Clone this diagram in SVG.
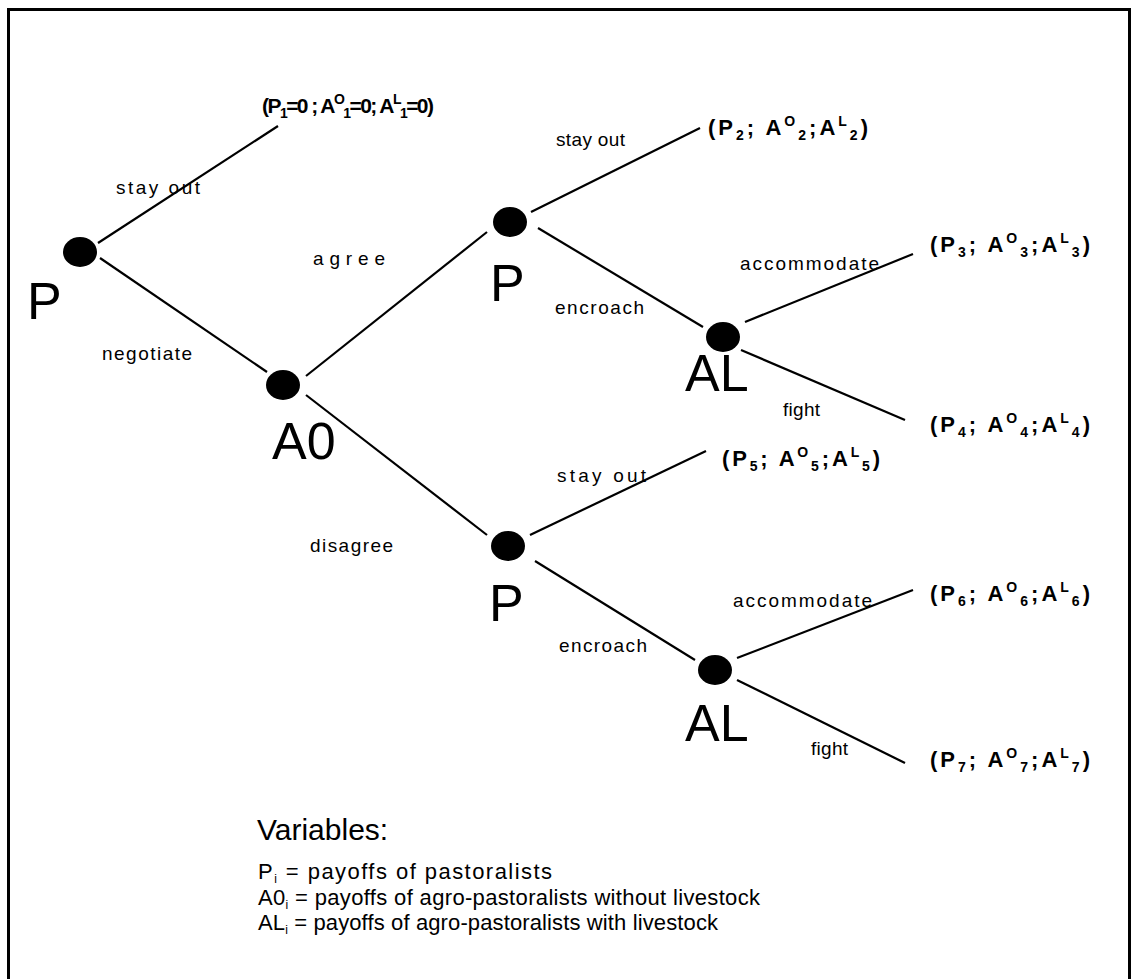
<svg xmlns="http://www.w3.org/2000/svg" width="1135" height="979" viewBox="0 0 1135 979">
<style>
text{font-family:"Liberation Sans",Arial,sans-serif;fill:#000}
.big{font-size:52px}
.lbl{font-size:19px}
.pay{font-size:22px;font-weight:bold}
.s{font-size:14px}
.var{font-size:22px}
.vs{font-size:12px}
line{stroke:#000;stroke-width:2.2}
ellipse{fill:#000}
</style>
<rect x="0" y="0" width="1135" height="979" fill="#fff"/>
<path d="M8.5,990 V9.5 H1129.5 V990" fill="none" stroke="#000" stroke-width="3"/>
<g id="connectors">
<line x1="98" y1="243" x2="278" y2="126"/>
<line x1="100" y1="258" x2="267" y2="372"/>
<line x1="306" y1="376" x2="487" y2="232"/>
<line x1="306" y1="395" x2="487" y2="535"/>
<line x1="531" y1="212" x2="700" y2="128"/>
<line x1="538" y1="228" x2="703" y2="327"/>
<line x1="745" y1="322" x2="913" y2="254"/>
<line x1="741" y1="350" x2="905" y2="420"/>
<line x1="530" y1="535" x2="706" y2="451"/>
<line x1="535" y1="561" x2="695" y2="660"/>
<line x1="737" y1="658" x2="913" y2="590"/>
<line x1="737" y1="680" x2="905" y2="763"/>
</g>
<g id="n-p1"><ellipse cx="80" cy="252" rx="17" ry="15"/><text class="big" x="27" y="319">P</text></g>
<g id="n-a0"><ellipse cx="283" cy="385" rx="17" ry="15"/><text class="big" x="272" y="459">A0</text></g>
<g id="n-p2"><ellipse cx="510" cy="222" rx="17" ry="15"/><text class="big" x="490" y="301">P</text></g>
<g id="n-al1"><ellipse cx="723" cy="337" rx="17" ry="15"/><text class="big" x="685" y="391">AL</text></g>
<g id="n-p3"><ellipse cx="508" cy="546" rx="17" ry="15"/><text class="big" x="489" y="621">P</text></g>
<g id="n-al2"><ellipse cx="715" cy="670" rx="17" ry="15"/><text class="big" x="685" y="741">AL</text></g>
<g id="edge-labels">
<text class="lbl" x="116" y="194" textLength="84" lengthAdjust="spacing">stay out</text>
<text class="lbl" x="313" y="265" textLength="72" lengthAdjust="spacing">agree</text>
<text class="lbl" x="102" y="360" textLength="90" lengthAdjust="spacing">negotiate</text>
<text class="lbl" x="556" y="146" textLength="69" lengthAdjust="spacing">stay out</text>
<text class="lbl" x="555" y="314" textLength="89" lengthAdjust="spacing">encroach</text>
<text class="lbl" x="740" y="270" textLength="139" lengthAdjust="spacing">accommodate</text>
<text class="lbl" x="783" y="416" textLength="37" lengthAdjust="spacing">fight</text>
<text class="lbl" x="557" y="482" textLength="89" lengthAdjust="spacing">stay out</text>
<text class="lbl" x="310" y="552" textLength="83" lengthAdjust="spacing">disagree</text>
<text class="lbl" x="559" y="652" textLength="88" lengthAdjust="spacing">encroach</text>
<text class="lbl" x="733" y="607" textLength="139" lengthAdjust="spacing">accommodate</text>
<text class="lbl" x="811" y="755" textLength="37" lengthAdjust="spacing">fight</text>
</g>
<g id="payoffs">
<text class="pay" x="262" y="113" style="font-size:21px" textLength="172" lengthAdjust="spacing">(P<tspan class="s" dy="5">1</tspan><tspan dy="-5">=0 ; A</tspan><tspan class="s" dy="-9">O</tspan><tspan class="s" dy="14">1</tspan><tspan dy="-5">=0; A</tspan><tspan class="s" dy="-9">L</tspan><tspan class="s" dy="14">1</tspan><tspan dy="-5">=0)</tspan></text>
<text class="pay" x="708" y="135" textLength="160" lengthAdjust="spacing">(P<tspan class="s" dy="5">2</tspan><tspan dy="-5">; A</tspan><tspan class="s" dy="-9">O</tspan><tspan class="s" dy="14">2</tspan><tspan dy="-5">;A</tspan><tspan class="s" dy="-9">L</tspan><tspan class="s" dy="14">2</tspan><tspan dy="-5">)</tspan></text>
<text class="pay" x="930" y="252" textLength="160" lengthAdjust="spacing">(P<tspan class="s" dy="5">3</tspan><tspan dy="-5">; A</tspan><tspan class="s" dy="-9">O</tspan><tspan class="s" dy="14">3</tspan><tspan dy="-5">;A</tspan><tspan class="s" dy="-9">L</tspan><tspan class="s" dy="14">3</tspan><tspan dy="-5">)</tspan></text>
<text class="pay" x="930" y="432" textLength="160" lengthAdjust="spacing">(P<tspan class="s" dy="5">4</tspan><tspan dy="-5">; A</tspan><tspan class="s" dy="-9">O</tspan><tspan class="s" dy="14">4</tspan><tspan dy="-5">;A</tspan><tspan class="s" dy="-9">L</tspan><tspan class="s" dy="14">4</tspan><tspan dy="-5">)</tspan></text>
<text class="pay" x="722" y="466" textLength="158" lengthAdjust="spacing">(P<tspan class="s" dy="5">5</tspan><tspan dy="-5">; A</tspan><tspan class="s" dy="-9">O</tspan><tspan class="s" dy="14">5</tspan><tspan dy="-5">;A</tspan><tspan class="s" dy="-9">L</tspan><tspan class="s" dy="14">5</tspan><tspan dy="-5">)</tspan></text>
<text class="pay" x="930" y="601" textLength="160" lengthAdjust="spacing">(P<tspan class="s" dy="5">6</tspan><tspan dy="-5">; A</tspan><tspan class="s" dy="-9">O</tspan><tspan class="s" dy="14">6</tspan><tspan dy="-5">;A</tspan><tspan class="s" dy="-9">L</tspan><tspan class="s" dy="14">6</tspan><tspan dy="-5">)</tspan></text>
<text class="pay" x="930" y="767" textLength="160" lengthAdjust="spacing">(P<tspan class="s" dy="5">7</tspan><tspan dy="-5">; A</tspan><tspan class="s" dy="-9">O</tspan><tspan class="s" dy="14">7</tspan><tspan dy="-5">;A</tspan><tspan class="s" dy="-9">L</tspan><tspan class="s" dy="14">7</tspan><tspan dy="-5">)</tspan></text>
</g>
<g id="legend">
<text x="257" y="840" style="font-size:30px">Variables:</text>
<text class="var" x="258" y="879" textLength="294" lengthAdjust="spacing">P<tspan class="vs" dy="4">i</tspan><tspan dy="-4"> = payoffs of pastoralists</tspan></text>
<text class="var" x="258" y="905" textLength="502" lengthAdjust="spacing">A0<tspan class="vs" dy="4">i</tspan><tspan dy="-4"> = payoffs of agro-pastoralists without livestock</tspan></text>
<text class="var" x="258" y="930" textLength="460" lengthAdjust="spacing">AL<tspan class="vs" dy="4">i</tspan><tspan dy="-4"> = payoffs of agro-pastoralists with livestock</tspan></text>
</g>
</svg>
